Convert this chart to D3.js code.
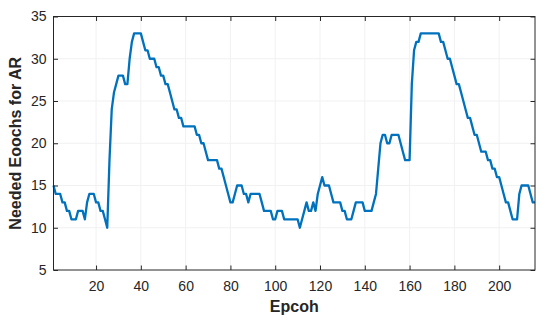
<!DOCTYPE html>
<html>
<head>
<meta charset="utf-8">
<script src="https://cdn.jsdelivr.net/npm/d3@7"></script>
<style>
  html, body { margin: 0; padding: 0; background: #fff; }
  svg { display: block; font-family: "Liberation Sans", Arial, Helvetica, sans-serif; }
</style>
</head>
<body>
<div id="chart"></div>
<script>
// Needed epochs for AR vs epoch, single blue line (MATLAB look)

// data: one value per epoch, epochs 1..216
const epochs = d3.range(1, 217);
const neededEpochs = [
  15,14,14,14,13,13,12,12,11,11,
  11,12,12,12,11,13,14,14,14,13,
  13,12,12,11,10,18,24,26,27,28,
  28,28,27,27,30,32,33,33,33,33,
  32,31,31,30,30,30,29,29,28,28,
  27,27,26,25,24,24,23,23,22,22,
  22,22,22,22,21,21,20,20,19,18,
  18,18,18,18,17,17,16,15,14,13,
  13,14,15,15,15,14,14,13,14,14,
  14,14,14,13,12,12,12,12,11,11,
  12,12,12,11,11,11,11,11,11,11,
  10,11,12,13,12,12,13,12,14,15,
  16,15,15,15,14,13,13,13,13,12,
  12,11,11,11,12,13,13,13,13,12,
  12,12,12,13,14,17,20,21,21,20,
  20,21,21,21,21,20,19,18,18,18,
  27,31,32,32,33,33,33,33,33,33,
  33,33,33,32,32,31,30,30,29,28,
  27,27,26,25,24,23,23,22,21,21,
  20,19,19,19,18,18,17,17,16,16,
  15,14,13,13,12,11,11,11,14,15,
  15,15,15,14,13,13
];
const xTicks = [20, 40, 60, 80, 100, 120, 140, 160, 180, 200];
const yTicks = [5, 10, 15, 20, 25, 30, 35];

const WIDTH = 550, HEIGHT = 321;
const margin = {top: 16.5, right: 15, bottom: 51, left: 53.5};
const innerW = WIDTH - margin.left - margin.right;
const innerH = HEIGHT - margin.top - margin.bottom;

const svg = d3.select("#chart").append("svg")
  .attr("width", WIDTH)
  .attr("height", HEIGHT);

const g = svg.append("g").attr("transform", `translate(${margin.left},${margin.top})`);

const x = d3.scaleLinear().domain([1, 216]).range([0, innerW]);
const y = d3.scaleLinear().domain([5, 35]).range([innerH, 0]);

const axisColor = "#262626";

// faint grid
g.append("g").selectAll("line.gy")
  .data(yTicks.slice(1, -1))
  .join("line")
  .attr("x1", 0).attr("x2", innerW)
  .attr("y1", d => y(d)).attr("y2", d => y(d))
  .attr("stroke", "#f1f1f1").attr("stroke-width", 1);
g.append("g").selectAll("line.gx")
  .data(xTicks)
  .join("line")
  .attr("x1", d => x(d)).attr("x2", d => x(d))
  .attr("y1", 0).attr("y2", innerH)
  .attr("stroke", "#f1f1f1").attr("stroke-width", 1);

// line
const line = d3.line()
  .x((d, i) => x(epochs[i]))
  .y(d => y(d));

g.append("path")
  .datum(neededEpochs)
  .attr("fill", "none")
  .attr("stroke", "#0072BD")
  .attr("stroke-width", 2.3)
  .attr("stroke-linejoin", "round")
  .attr("d", line);

// axes (ticks pointing inward, box on)
const tickLen = 4.5;
const xAxis = d3.axisBottom(x).tickValues(xTicks).tickSizeInner(-tickLen).tickSizeOuter(0).tickPadding(11);
const yAxis = d3.axisLeft(y).tickValues(yTicks).tickSizeInner(-tickLen).tickSizeOuter(0).tickPadding(7);
const xTop = d3.axisTop(x).tickValues(xTicks).tickSizeInner(-tickLen).tickSizeOuter(0).tickFormat("");
const yRight = d3.axisRight(y).tickValues(yTicks).tickSizeInner(-tickLen).tickSizeOuter(0).tickFormat("");

function style(sel) {
  sel.select(".domain").remove();
  sel.selectAll(".tick line").attr("stroke", axisColor).attr("stroke-width", 1);
  sel.selectAll(".tick text")
    .attr("fill", axisColor)
    .attr("font-size", 14)
    .attr("font-family", "'Liberation Sans', Arial, Helvetica, sans-serif");
}

g.append("g").attr("transform", `translate(0,${innerH})`).call(xAxis).call(style);
g.append("g").call(yAxis).call(style);
g.append("g").call(xTop).call(style);
g.append("g").attr("transform", `translate(${innerW},0)`).call(yRight).call(style);

// box
g.append("rect")
  .attr("x", 0).attr("y", 0)
  .attr("width", innerW).attr("height", innerH)
  .attr("fill", "none")
  .attr("stroke", axisColor)
  .attr("stroke-width", 1);

// axis labels
svg.append("text")
  .attr("text-anchor", "middle")
  .attr("x", margin.left + innerW / 2)
  .attr("y", 311.5)
  .attr("font-size", 16)
  .attr("font-weight", "bold")
  .attr("fill", axisColor)
  .text("Epcoh");

svg.append("text")
  .attr("text-anchor", "middle")
  .attr("transform", "rotate(-90)")
  .attr("x", -(margin.top + innerH / 2))
  .attr("y", 21)
  .attr("font-size", 16)
  .attr("font-weight", "bold")
  .attr("fill", axisColor)
  .text("Needed Eoochs for AR");
</script>
</body>
</html>
